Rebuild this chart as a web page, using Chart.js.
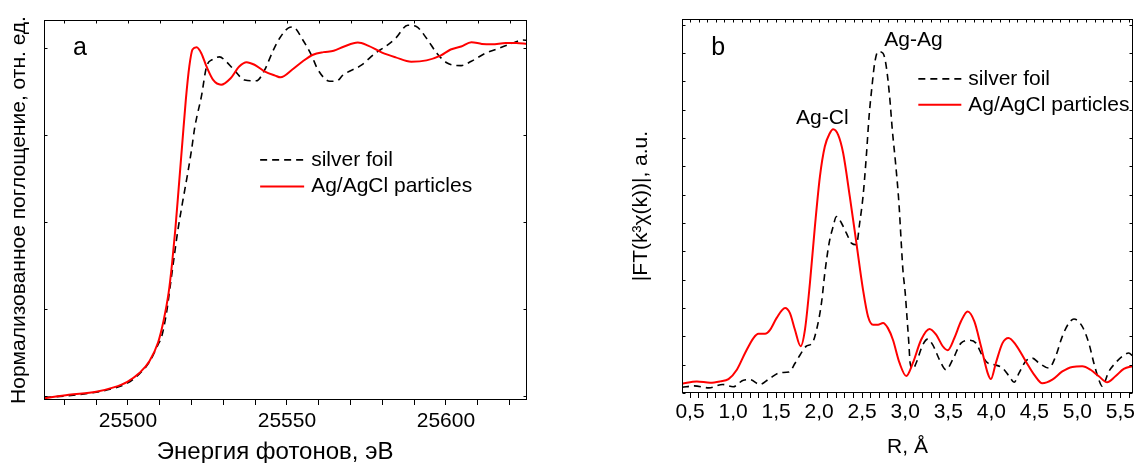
<!DOCTYPE html>
<html><head><meta charset="utf-8">
<script src="https://cdn.jsdelivr.net/npm/chart.js@4.4.1/dist/chart.umd.min.js"></script>
<style>
html,body{margin:0;padding:0;background:#fff;width:1140px;height:463px;overflow:hidden}
canvas{position:absolute;top:0}
#ca{left:0}#cb{left:570px}
</style></head><body>
<canvas id="ca" width="570" height="463"></canvas>
<canvas id="cb" width="570" height="463"></canvas>
<script>
const FONT = "'Liberation Sans', Arial, Helvetica, sans-serif";
const seriesNames = ['silver foil', 'Ag/AgCl particles'];

// ---- panel a : XANES ----
const xanesFoilE = [25473.8,25481.4,25490.0,25495.5,25499.8,25503.6,25506.8,25509.5,25510.6,25512.2,25513.3,25514.5,25515.6,25517.1,25518.7,25520.0,25521.0,25521.7,25523.1,25524.7,25526.5,25528.8,25530.8,25532.9,25536.7,25540.4,25543.0,25545.5,25547.7,25550.5,25551.9,25555.0,25557.7,25559.8,25563.5,25565.8,25567.6,25573.4,25577.7,25581.0,25584.2,25588.0,25590.7,25593.9,25597.2,25600.4,25604.8,25608.0,25612.3,25616.7,25621.0,25624.2,25625.5];
const xanesFoilMu = [-0.004,0.000,0.008,0.017,0.029,0.050,0.078,0.118,0.136,0.194,0.253,0.318,0.376,0.442,0.508,0.566,0.617,0.643,0.689,0.757,0.774,0.780,0.770,0.754,0.727,0.725,0.750,0.792,0.823,0.847,0.849,0.819,0.784,0.750,0.724,0.725,0.738,0.761,0.788,0.804,0.823,0.853,0.850,0.823,0.788,0.766,0.760,0.770,0.788,0.800,0.812,0.819,0.818];
const xanesAgE = [25473.8,25481.4,25490.0,25495.5,25499.8,25503.6,25506.8,25509.5,25511.1,25512.8,25513.9,25514.9,25516.0,25517.1,25518.2,25519.3,25520.3,25521.6,25523.1,25524.7,25526.8,25529.3,25532.3,25535.0,25537.3,25539.8,25543.1,25546.3,25548.0,25551.7,25555.0,25558.2,25561.5,25564.7,25568.0,25572.3,25575.5,25579.9,25584.2,25589.1,25593.9,25598.3,25601.5,25604.8,25608.0,25611.3,25614.5,25618.8,25622.1,25625.5];
const xanesAgMu = [-0.006,0.002,0.009,0.019,0.032,0.052,0.080,0.123,0.169,0.237,0.306,0.383,0.482,0.582,0.681,0.758,0.797,0.802,0.788,0.758,0.727,0.716,0.731,0.758,0.768,0.762,0.746,0.737,0.733,0.751,0.770,0.785,0.791,0.794,0.804,0.813,0.806,0.790,0.779,0.769,0.772,0.783,0.797,0.804,0.814,0.810,0.809,0.812,0.812,0.810];
const xanesTickLabels = ['25500','25550','25600'];

// ---- panel b : Fourier transform ----
const ftFoilR = [0.407,0.55,0.72,0.88,1.00,1.12,1.20,1.31,1.42,1.55,1.65,1.72,1.78,1.85,1.92,1.97,2.027,2.066,2.116,2.163,2.201,2.259,2.317,2.375,2.433,2.471,2.510,2.548,2.580,2.614,2.645,2.684,2.742,2.780,2.819,2.850,2.888,2.927,2.954,2.973,3.000,3.020,3.042,3.057,3.089,3.127,3.204,3.262,3.320,3.397,3.474,3.552,3.648,3.745,3.822,3.900,3.957,4.034,4.130,4.208,4.265,4.323,4.400,4.477,4.554,4.670,4.747,4.825,4.902,4.960,5.056,5.133,5.191,5.249,5.288,5.365,5.442,5.519,5.596,5.646];
const ftFoilMag = [0.20,0.25,0.18,0.30,0.22,0.45,0.47,0.30,0.50,0.72,0.74,1.05,1.35,1.65,1.76,2.23,3.17,4.23,5.29,5.88,6.23,6.00,5.64,5.29,5.23,6.00,6.94,8.35,9.76,10.82,11.64,12.05,11.99,11.52,10.46,9.29,8.11,6.70,5.29,4.35,3.53,2.70,1.76,1.06,0.85,1.06,1.70,1.90,1.70,1.18,0.82,1.18,1.76,1.86,1.76,1.29,1.06,1.00,0.88,0.59,0.38,0.71,1.12,1.23,1.06,0.88,1.29,2.00,2.47,2.61,2.35,1.76,1.06,0.47,0.24,0.76,1.06,1.29,1.41,1.29];
const ftAgR = [0.407,0.58,0.735,0.851,0.947,1.044,1.140,1.237,1.295,1.372,1.430,1.507,1.604,1.661,1.719,1.785,1.835,1.893,1.951,2.009,2.066,2.124,2.163,2.221,2.279,2.356,2.433,2.510,2.568,2.626,2.684,2.742,2.799,2.857,2.934,3.012,3.089,3.185,3.282,3.359,3.436,3.494,3.571,3.648,3.725,3.803,3.880,3.957,3.995,4.053,4.130,4.200,4.285,4.400,4.497,4.593,4.709,4.825,4.941,5.056,5.153,5.249,5.346,5.442,5.539,5.646];
const ftAgMag = [0.33,0.41,0.36,0.41,0.49,0.82,1.41,1.94,2.09,2.09,2.23,2.65,3.00,2.82,2.23,1.65,2.23,3.88,5.88,7.64,8.70,9.17,9.31,9.11,8.47,6.94,5.29,3.64,2.70,2.41,2.41,2.47,2.29,1.88,1.06,0.60,1.06,1.88,2.26,2.06,1.65,1.51,1.94,2.53,2.88,2.53,1.65,0.71,0.49,1.06,1.76,1.94,1.70,1.12,0.65,0.34,0.47,0.76,0.92,0.94,0.82,0.59,0.38,0.59,0.85,0.95];
const ftTickLabels = ['0,5','1,0','1,5','2,0','2,5','3,0','3,5','4,0','4,5','5,0','5,5'];

const pts = (xs, ys) => xs.map((x, i) => ({x, y: ys[i]}));

const decor = {
  id: 'decor',
  afterDatasetsDraw(chart, args, o) {
    const ctx = chart.ctx, a = chart.chartArea, xs = chart.scales.x, ys = chart.scales.y;
    ctx.save();
    ctx.strokeStyle = '#000'; ctx.lineWidth = 1; ctx.setLineDash([]);
    const L = Math.round(a.left) + 0.5, T = Math.round(a.top) + 0.5, R = Math.round(a.right) - 0.5, B = Math.round(a.bottom) - 0.5;
    ctx.strokeRect(L, T, R - L, B - T);
    ctx.beginPath();
    xs.ticks.forEach(t => { const x = Math.round(xs.getPixelForValue(t.value)) + 0.5; ctx.moveTo(x, T); ctx.lineTo(x, T + 3); });
    ys.ticks.forEach(t => { const y = Math.round(ys.getPixelForValue(t.value)) + 0.5; ctx.moveTo(L, y); ctx.lineTo(L + 3, y); ctx.moveTo(R, y); ctx.lineTo(R - 3, y); });
    ctx.stroke();
    ctx.fillStyle = '#000';
    (o.texts || []).forEach(t => {
      ctx.font = t.size + 'px ' + FONT; ctx.textAlign = 'center'; ctx.textBaseline = 'alphabetic';
      ctx.fillText(t.text, xs.getPixelForValue(t.x), ys.getPixelForValue(t.y));
    });
    const lg = o.legend;
    if (lg) {
      const x0 = a.left + lg.fx * (a.right - a.left);
      let y = a.top + lg.fy * (a.bottom - a.top);
      ctx.font = lg.size + 'px ' + FONT; ctx.textAlign = 'left'; ctx.textBaseline = 'middle';
      chart.data.datasets.forEach(ds => {
        ctx.beginPath(); ctx.strokeStyle = ds.borderColor; ctx.lineWidth = ds.borderWidth; ctx.setLineDash(ds.borderDash || []);
        ctx.moveTo(x0, y); ctx.lineTo(x0 + lg.len, y); ctx.stroke(); ctx.setLineDash([]);
        ctx.fillText(ds.label, x0 + lg.textGap, y);
        y += lg.gap;
      });
    }
    if (o.xTitle) {
      ctx.font = o.xTitle.size + 'px ' + FONT; ctx.textAlign = 'center'; ctx.textBaseline = 'middle';
      ctx.fillText(o.xTitle.text, (a.left + a.right) / 2 + o.xTitle.dx, chart.height - o.xTitle.fromBottom);
    }
    ctx.restore();
  }
};

function datasets(fx, fy, ax, ay) {
  return [
    {label: seriesNames[0], data: pts(fx, fy), borderColor: '#000', borderWidth: 1.6, borderDash: [7, 5], order: 1},
    {label: seriesNames[1], data: pts(ax, ay), borderColor: '#ff0000', borderWidth: 2, order: 0}
  ];
}

const common = {
  responsive: false, animation: false, events: [],
  elements: {point: {radius: 0}, line: {cubicInterpolationMode: 'monotone', fill: false}},
};

Chart.defaults.font.family = FONT;
Chart.defaults.color = '#000';

new Chart(document.getElementById('ca'), {
  type: 'line',
  data: {datasets: datasets(xanesFoilE, xanesFoilMu, xanesAgE, xanesAgMu)},
  plugins: [decor],
  options: Object.assign({}, common, {
    layout: {padding: {left: 0, top: 20, right: 43, bottom: 0}},
    plugins: {
      legend: {display: false}, tooltip: {enabled: false},
      decor: {
        texts: [{text: 'a', x: 25484.9, y: 0.784, size: 25}],
        legend: {fx: 0.4475, fy: 0.368, gap: 26.7, len: 44, textGap: 51, size: 21},
        xTitle: {text: 'Энергия фотонов, эВ', dx: -10.4, fromBottom: 10.6, size: 24}
      }
    },
    scales: {
      x: {
        type: 'linear', min: 25473.6, max: 25625.5,
        afterFit: s => { s.height = 63; },
        border: {display: false},
        grid: {display: true, drawOnChartArea: false, drawTicks: true, tickLength: 5, color: '#000'},
        ticks: {stepSize: 10, includeBounds: false, autoSkip: false, maxRotation: 0, minRotation: 0, padding: 3.7,
          font: {size: 21}, callback: v => xanesTickLabels.includes(String(v)) ? String(v) : ''},
        title: {display: false}
      },
      y: {
        type: 'linear', min: -0.01, max: 0.865,
        afterFit: s => { s.width = 44; },
        border: {display: false},
        grid: {display: false},
        ticks: {display: false, stepSize: 0.2, includeBounds: false},
        title: {display: true, text: 'Нормализованное поглощение, отн. ед.', font: {size: 21}, padding: {top: 7.1, bottom: 0}}
      }
    }
  })
});

new Chart(document.getElementById('cb'), {
  type: 'line',
  data: {datasets: datasets(ftFoilR, ftFoilMag, ftAgR, ftAgMag)},
  plugins: [decor],
  options: Object.assign({}, common, {
    layout: {padding: {left: 0, top: 19, right: 7, bottom: 0}},
    plugins: {
      legend: {display: false}, tooltip: {enabled: false},
      decor: {
        texts: [
          {text: 'b', x: 0.828, y: 11.93, size: 25},
          {text: 'Ag-Cl', x: 2.037, y: 9.49, size: 21},
          {text: 'Ag-Ag', x: 3.096, y: 12.25, size: 21}
        ],
        legend: {fx: 0.524, fy: 0.160, gap: 26, len: 43, textGap: 50, size: 21}
      }
    },
    scales: {
      x: {
        type: 'linear', min: 0.407, max: 5.646,
        afterFit: s => { s.height = 70; },
        border: {display: false},
        grid: {display: true, drawOnChartArea: false, drawTicks: true, tickLength: 5, color: '#000'},
        ticks: {stepSize: 0.1, includeBounds: false, autoSkip: false, maxRotation: 0, minRotation: 0, padding: 2,
          font: {size: 21}, callback: v => { const s = Number(v).toFixed(1).replace('.', ','); return ftTickLabels.includes(s) ? s : ''; }},
        title: {display: true, text: 'R, Å', font: {size: 21}, padding: {top: 0, bottom: 3.4}}
      },
      y: {
        type: 'linear', min: 0, max: 13.2,
        afterFit: s => { s.width = 112; },
        border: {display: false},
        grid: {display: false},
        ticks: {display: false, stepSize: 1, includeBounds: false},
        title: {display: true, text: '|FT(k³χ(k))|, a.u.', font: {size: 21}, padding: {top: 58.9, bottom: 0}}
      }
    }
  })
});
</script>
</body></html>
